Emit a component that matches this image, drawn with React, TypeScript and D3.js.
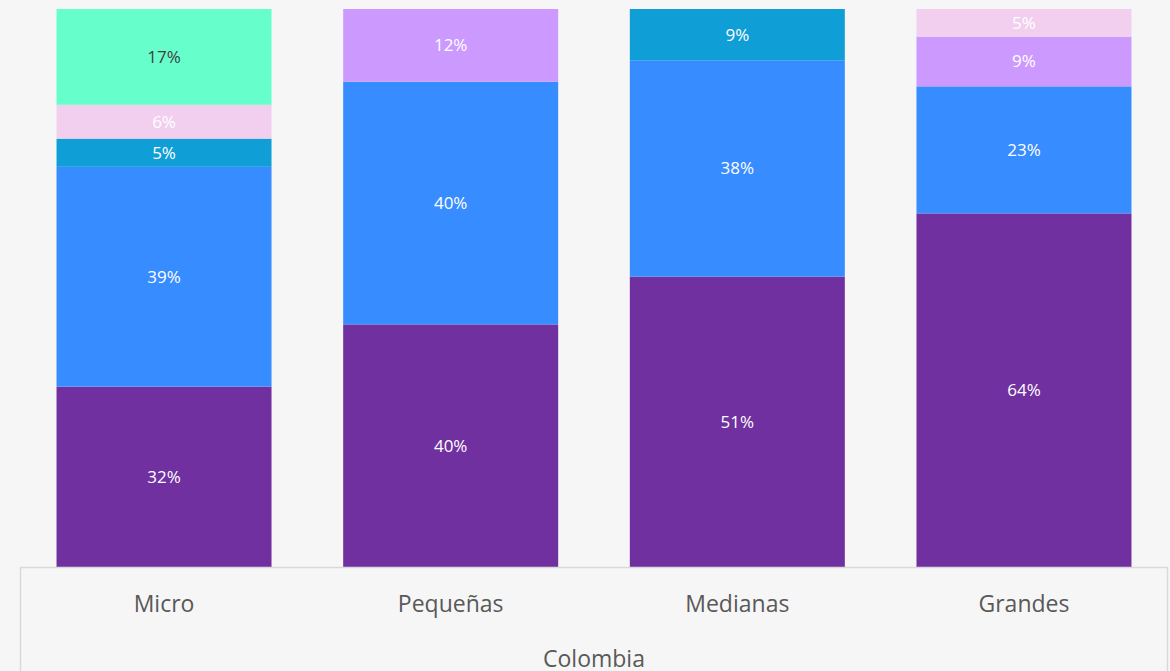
import React from "react";
import * as d3 from "d3";

const categories = ["Micro", "Pequeñas", "Medianas", "Grandes"];
const seriesKeys = ["s1", "s2", "s3", "s4", "s5", "s6"];
const seriesColors = ["#7030A0", "#378CFF", "#0F9ED5", "#CC99FF", "#F2CEEF", "#66FFCC"];
const labelColors = ["#FFFFFF", "#FFFFFF", "#FFFFFF", "#FFFFFF", "#FFFFFF", "#404040"];
// values per category, in series order (0 = absent)
const s1 = [32, 40, 51, 64];
const s2 = [39, 40, 38, 23];
const s3 = [5, 0, 9, 0];
const s4 = [0, 12, 0, 9];
const s5 = [6, 0, 0, 5];
const s6 = [17, 0, 0, 0];
const groupLabel = "Colombia";

const W = 1170;
const H = 671;

export default function App() {
  const rows = categories.map((c, i) => ({
    cat: c,
    s1: s1[i], s2: s2[i], s3: s3[i], s4: s4[i], s5: s5[i], s6: s6[i],
  }));
  const stack = d3.stack<any>().keys(seriesKeys).offset(d3.stackOffsetExpand);
  const layers = stack(rows);

  const x = d3.scaleBand<string>().domain(categories).range([20.7, 1167.3]).paddingInner(0.25).paddingOuter(0.125);
  const y = d3.scaleLinear().domain([0, 1]).range([567, 9]);

  const font = "'Open Sans', sans-serif";

  return (
    <svg width={W} height={H} style={{ position: "fixed", left: 0, top: 0, background: "#F6F6F6" }}>
      <rect x={0} y={0} width={W} height={H} fill="#F6F6F6" />
      {layers.map((layer, li) =>
        layer.map((d, ci) => {
          const v = (rows[ci] as any)[seriesKeys[li]];
          if (!v) return null;
          const x0 = x(categories[ci])!;
          const yTop = y(d[1]);
          const yBot = y(d[0]);
          return (
            <g key={`${li}-${ci}`}>
              <rect x={x0} y={yTop} width={x.bandwidth()} height={yBot - yTop} fill={seriesColors[li]} />
              <text
                x={x0 + x.bandwidth() / 2}
                y={(yTop + yBot) / 2}
                dy="0.35em"
                textAnchor="middle"
                fontFamily={font}
                fontSize={17}
                fill={labelColors[li]}
              >
                {`${v}%`}
              </text>
            </g>
          );
        })
      )}
      <path d={`M20.5,${H}V567.5H1167.5V${H}`} fill="none" stroke="#D9D9D9" strokeWidth={1.5} />
      {categories.map((c) => (
        <text
          key={c}
          x={x(c)! + x.bandwidth() / 2}
          y={612}
          textAnchor="middle"
          fontFamily={font}
          fontSize={23}
          fill="#595959"
        >
          {c}
        </text>
      ))}
      <text x={594} y={667} textAnchor="middle" fontFamily={font} fontSize={23} fill="#595959">
        {groupLabel}
      </text>
    </svg>
  );
}
